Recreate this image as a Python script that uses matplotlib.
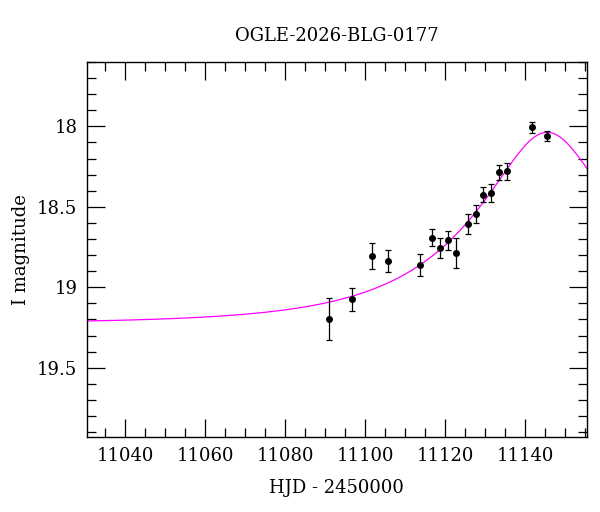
import numpy as np
import matplotlib
matplotlib.use("Agg")
import matplotlib.pyplot as plt
from matplotlib.ticker import MultipleLocator

# photometry (HJD - 2450000, I mag, error)
hjd = [11090.85, 11096.75, 11101.75, 11105.7, 11113.7, 11116.7, 11118.7,
       11120.7, 11122.7, 11125.6, 11127.6, 11129.5, 11131.5, 11133.5,
       11135.5, 11141.6, 11145.5]
imag = [19.197, 19.075, 18.803, 18.836, 18.863, 18.691, 18.756,
        18.708, 18.789, 18.607, 18.547, 18.424, 18.414, 18.286,
        18.280, 18.006, 18.058]
ierr = [0.130, 0.073, 0.081, 0.067, 0.067, 0.055, 0.062,
        0.060, 0.094, 0.063, 0.056, 0.049, 0.056, 0.048,
        0.051, 0.034, 0.031]

# point-lens model parameters
t0 = 11145.5
tE = 37.0
u0 = 0.35
I_base = 19.225

plt.rcParams['font.family'] = ['DejaVu Serif']
plt.rcParams['font.size'] = 12

fig = plt.figure(figsize=(6, 5.12), dpi=100)
ax = fig.add_axes([0.145, 0.1465, 0.833, 0.7325])

t = np.linspace(11030, 11156, 600)
u = np.sqrt(u0**2 + ((t - t0) / tE)**2)
A = (u**2 + 2) / (u * np.sqrt(u**2 + 4))
ax.plot(t, I_base - 2.5 * np.log10(A), color='#ff00ff', lw=0.9, zorder=2)

ax.errorbar(hjd, imag, yerr=ierr, fmt='o', color='black', ms=4,
            ecolor='black', elinewidth=0.9, capsize=2.5, capthick=0.9, zorder=3)

ax.set_xlim(11030.4, 11155.4)
ax.set_ylim(19.93, 17.6)
ax.xaxis.set_major_locator(MultipleLocator(20))
ax.xaxis.set_minor_locator(MultipleLocator(5))
ax.yaxis.set_major_locator(MultipleLocator(0.5))
ax.yaxis.set_minor_locator(MultipleLocator(0.1))
ax.yaxis.set_major_formatter(plt.FuncFormatter(lambda v, p: f"{v:g}"))
ax.tick_params(which='both', direction='in', top=True, right=True,
               labelsize=13, width=0.9)
ax.tick_params(which='major', length=13, pad=7)
ax.tick_params(which='minor', length=6.5)
for s in ax.spines.values():
    s.set_linewidth(1.0)

ax.set_title('OGLE-2026-BLG-0177', fontsize=13, pad=15)
ax.set_xlabel('HJD - 2450000', fontsize=13, labelpad=10)
ax.set_ylabel('I magnitude', fontsize=13, labelpad=5)

fig.savefig('out.png', dpi=100)
